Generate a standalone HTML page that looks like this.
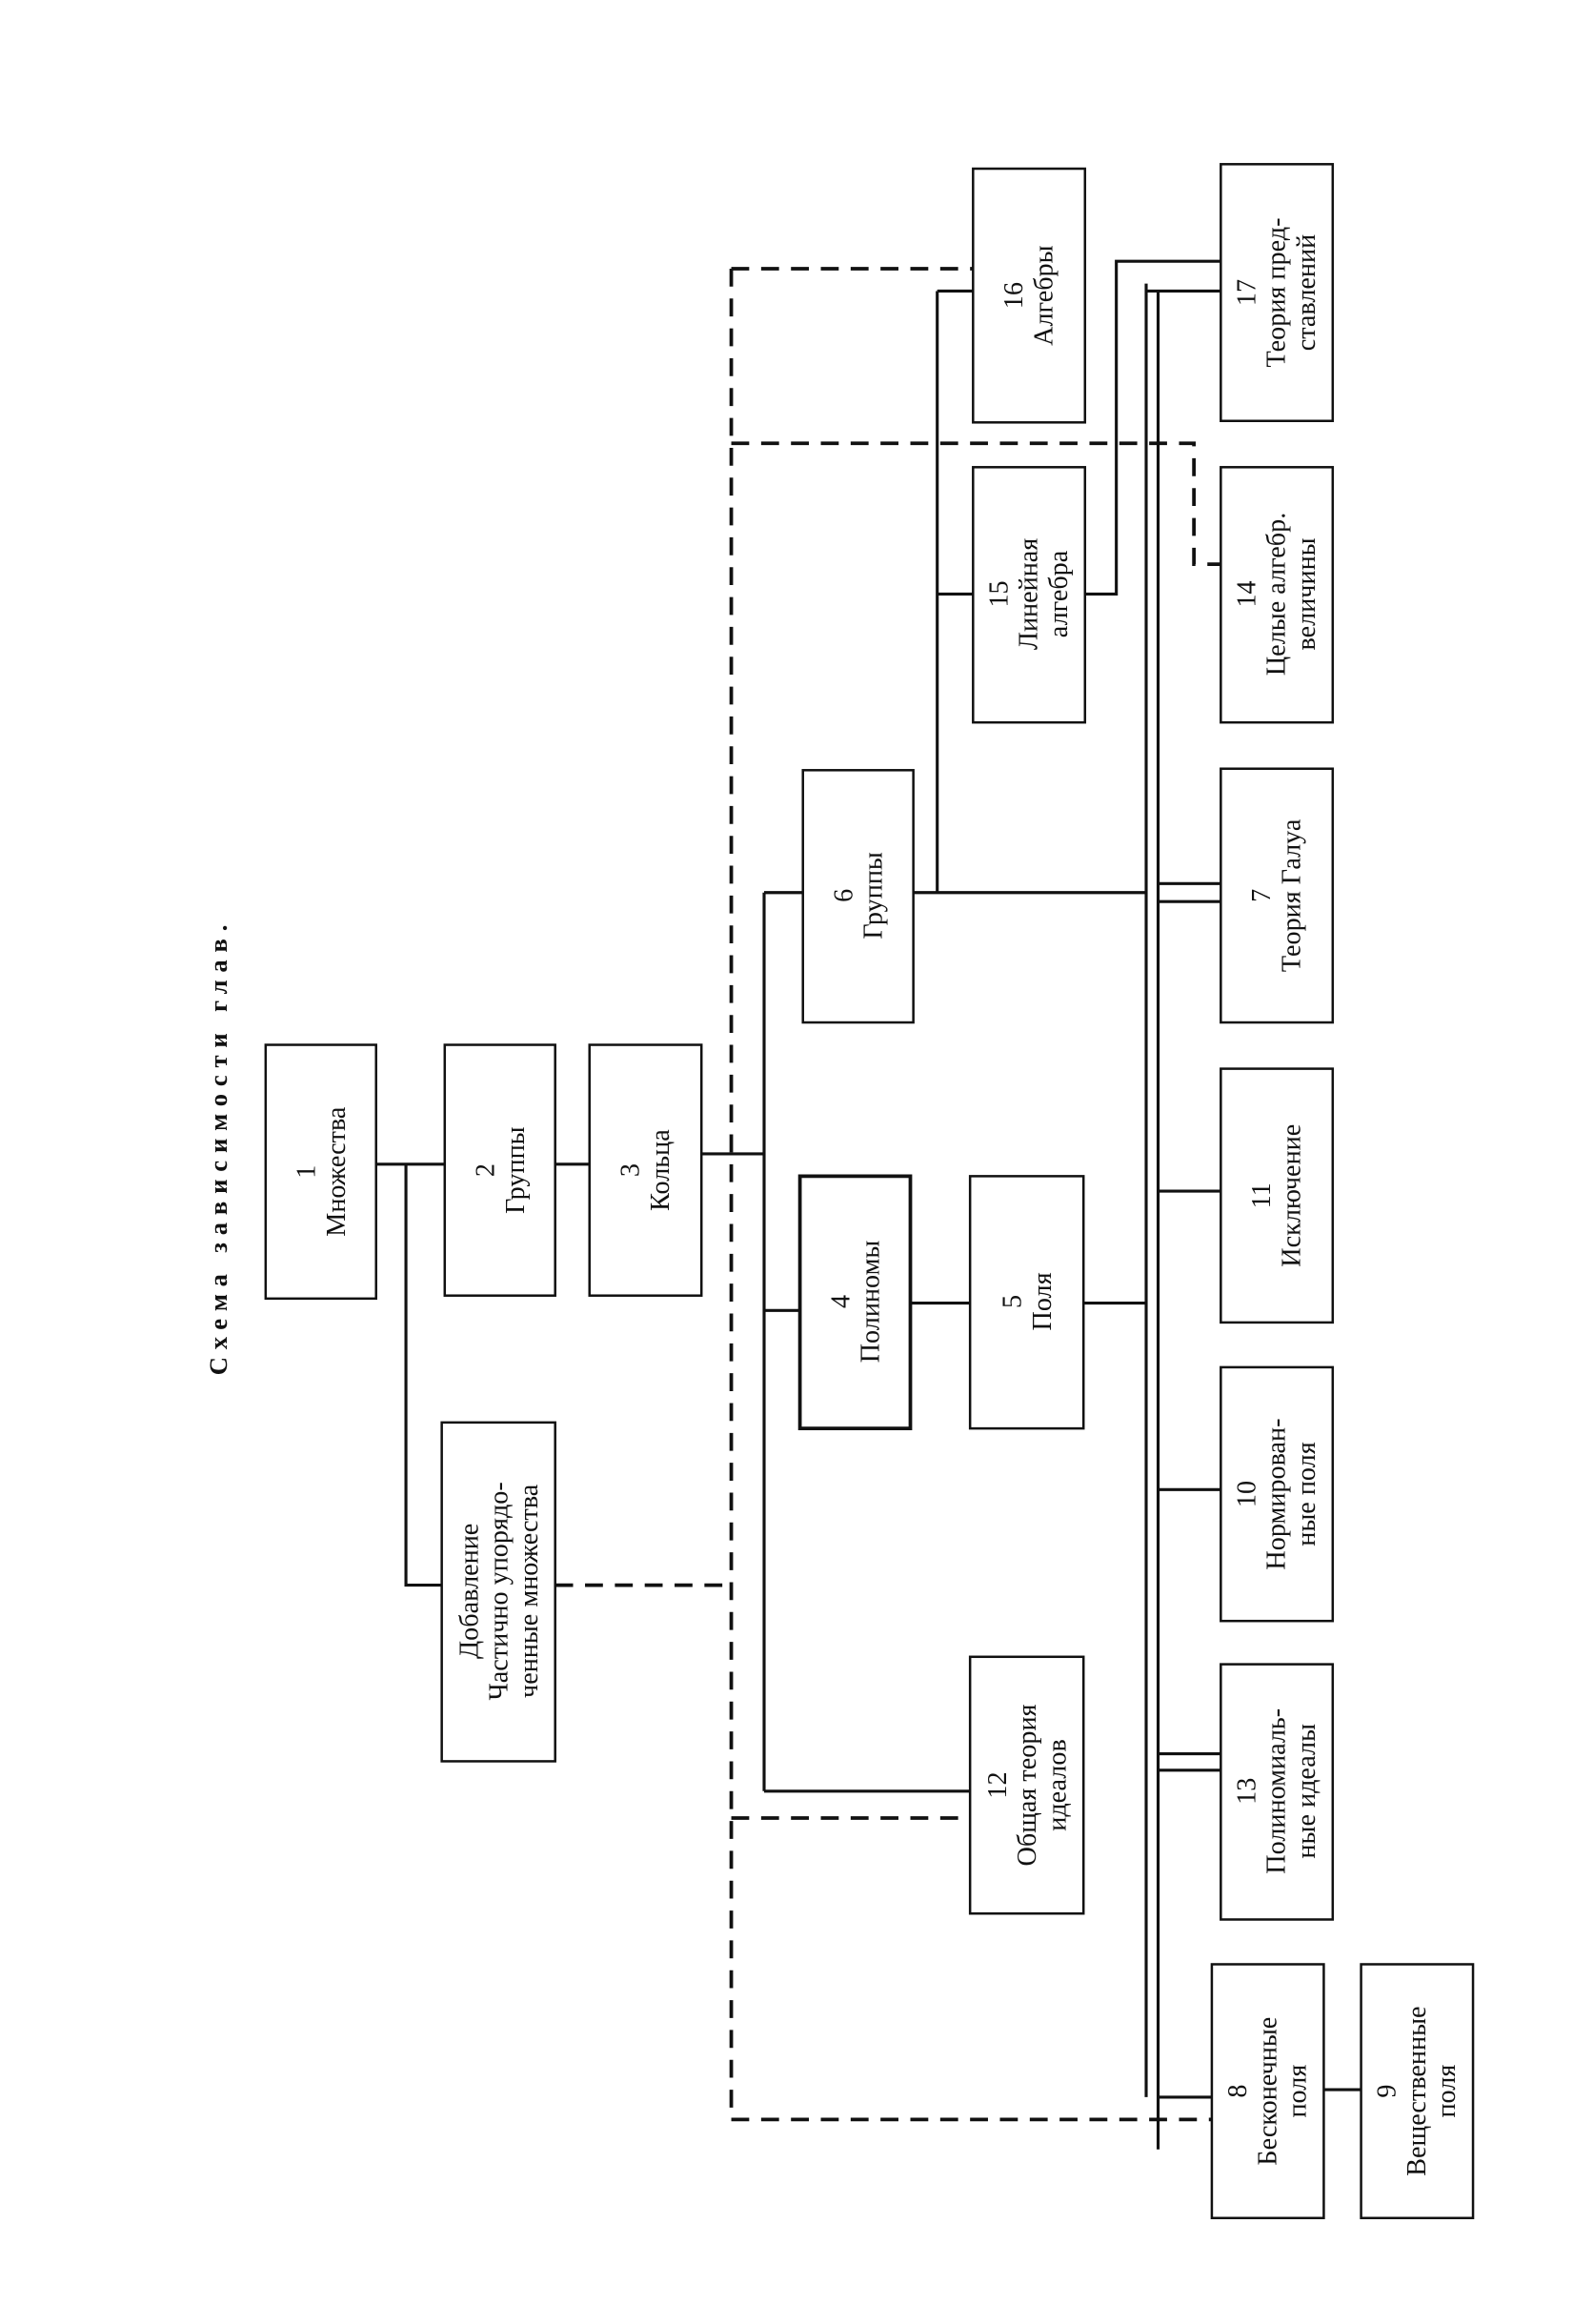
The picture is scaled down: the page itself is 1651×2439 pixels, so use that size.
<!DOCTYPE html>
<html><head><meta charset="utf-8"><style>
html,body{margin:0;padding:0;background:#fff}
svg{display:block}
text{font-family:"Liberation Serif",serif;fill:#111}
</style></head><body>
<svg width="1651" height="2439" viewBox="0 0 1054 1557" preserveAspectRatio="none" xmlns="http://www.w3.org/2000/svg">
<g stroke="#111" fill="none" stroke-width="1.6">
<rect x="178" y="700" width="74" height="170"/>
<rect x="298" y="700" width="74" height="168"/>
<rect x="395" y="700" width="75" height="168"/>
<rect x="296" y="953" width="76" height="227"/>
<rect x="536" y="788" width="74" height="169" stroke-width="2.4"/>
<rect x="650" y="788" width="76" height="169"/>
<rect x="538" y="516" width="74" height="169"/>
<rect x="650" y="1110" width="76" height="172"/>
<rect x="652" y="313" width="75" height="171"/>
<rect x="652" y="113" width="75" height="170"/>
<rect x="818" y="110" width="75" height="172"/>
<rect x="818" y="313" width="75" height="171"/>
<rect x="818" y="515" width="75" height="170"/>
<rect x="818" y="716" width="75" height="170"/>
<rect x="818" y="916" width="75" height="170"/>
<rect x="818" y="1115" width="75" height="171"/>
<rect x="812" y="1316" width="75" height="170"/>
<rect x="912" y="1316" width="75" height="170"/>
</g>
<g stroke="#111" fill="none" stroke-width="2">
<path d="M252 780H298"/>
<path d="M372 780H395"/>
<path d="M272 780V1062H296"/>
<path d="M470 773H512"/>
<path d="M512 598V1200"/>
<path d="M512 598H538M512 878H536M512 1200H650"/>
<path d="M610 873H650"/>
<path d="M726 873H768"/>
<path d="M768 190V1405"/>
<path d="M776 195V1440"/>
<path d="M768 195H818"/>
<path d="M776 592H818M776 604H818"/>
<path d="M776 798H818"/>
<path d="M776 998H818"/>
<path d="M776 1175H818M776 1186H818"/>
<path d="M776 1405H812"/>
<path d="M612 598H768"/>
<path d="M628 195V598"/>
<path d="M628 195H652M628 398H652"/>
<path d="M727 398H748V175H818"/>
<path d="M887 1400H912"/>
</g>
<g stroke="#111" fill="none" stroke-width="2.4" stroke-dasharray="12,8">
<path d="M372 1062H490"/>
<path d="M490 180V1420"/>
<path d="M490 180H652"/>
<path d="M490 297H800V378H818"/>
<path d="M490 1218H650"/>
<path d="M490 1420H812"/>
</g>
<g font-size="18" text-anchor="middle">
<text transform="translate(152,768) rotate(-90)" font-family="Liberation Sans" font-weight="bold" letter-spacing="5" font-size="17">Схема зависимости глав.</text>
<g transform="translate(215,785) rotate(-90)"><text y="-4">1</text><text y="16">Множества</text></g>
<g transform="translate(335,784) rotate(-90)"><text y="-4">2</text><text y="16">Группы</text></g>
<g transform="translate(432,784) rotate(-90)"><text y="-4">3</text><text y="16">Кольца</text></g>
<g transform="translate(334,1066) rotate(-90)"><text y="-14">Добавление</text><text y="6">Частично упорядо-</text><text y="26">ченные множества</text></g>
<g transform="translate(573,872) rotate(-90)"><text y="-4">4</text><text y="16">Полиномы</text></g>
<g transform="translate(688,872) rotate(-90)"><text y="-4">5</text><text y="16">Поля</text></g>
<g transform="translate(575,600) rotate(-90)"><text y="-4">6</text><text y="16">Группы</text></g>
<g transform="translate(688,1196) rotate(-90)"><text y="-14">12</text><text y="6">Общая теория</text><text y="26">идеалов</text></g>
<g transform="translate(689,398) rotate(-90)"><text y="-14">15</text><text y="6">Линейная</text><text y="26">алгебра</text></g>
<g transform="translate(689,198) rotate(-90)"><text y="-4">16</text><text y="16">Алгебры</text></g>
<g transform="translate(855,196) rotate(-90)"><text y="-14">17</text><text y="6">Теория пред-</text><text y="26">ставлений</text></g>
<g transform="translate(855,398) rotate(-90)"><text y="-14">14</text><text y="6">Целые алгебр.</text><text y="26">величины</text></g>
<g transform="translate(855,600) rotate(-90)"><text y="-4">7</text><text y="16">Теория Галуа</text></g>
<g transform="translate(855,801) rotate(-90)"><text y="-4">11</text><text y="16">Исключение</text></g>
<g transform="translate(855,1001) rotate(-90)"><text y="-14">10</text><text y="6">Нормирован-</text><text y="26">ные поля</text></g>
<g transform="translate(855,1200) rotate(-90)"><text y="-14">13</text><text y="6">Полиномиаль-</text><text y="26">ные идеалы</text></g>
<g transform="translate(849,1401) rotate(-90)"><text y="-14">8</text><text y="6">Бесконечные</text><text y="26">поля</text></g>
<g transform="translate(949,1401) rotate(-90)"><text y="-14">9</text><text y="6">Вещественные</text><text y="26">поля</text></g>
</g>
</svg>
</body></html>
